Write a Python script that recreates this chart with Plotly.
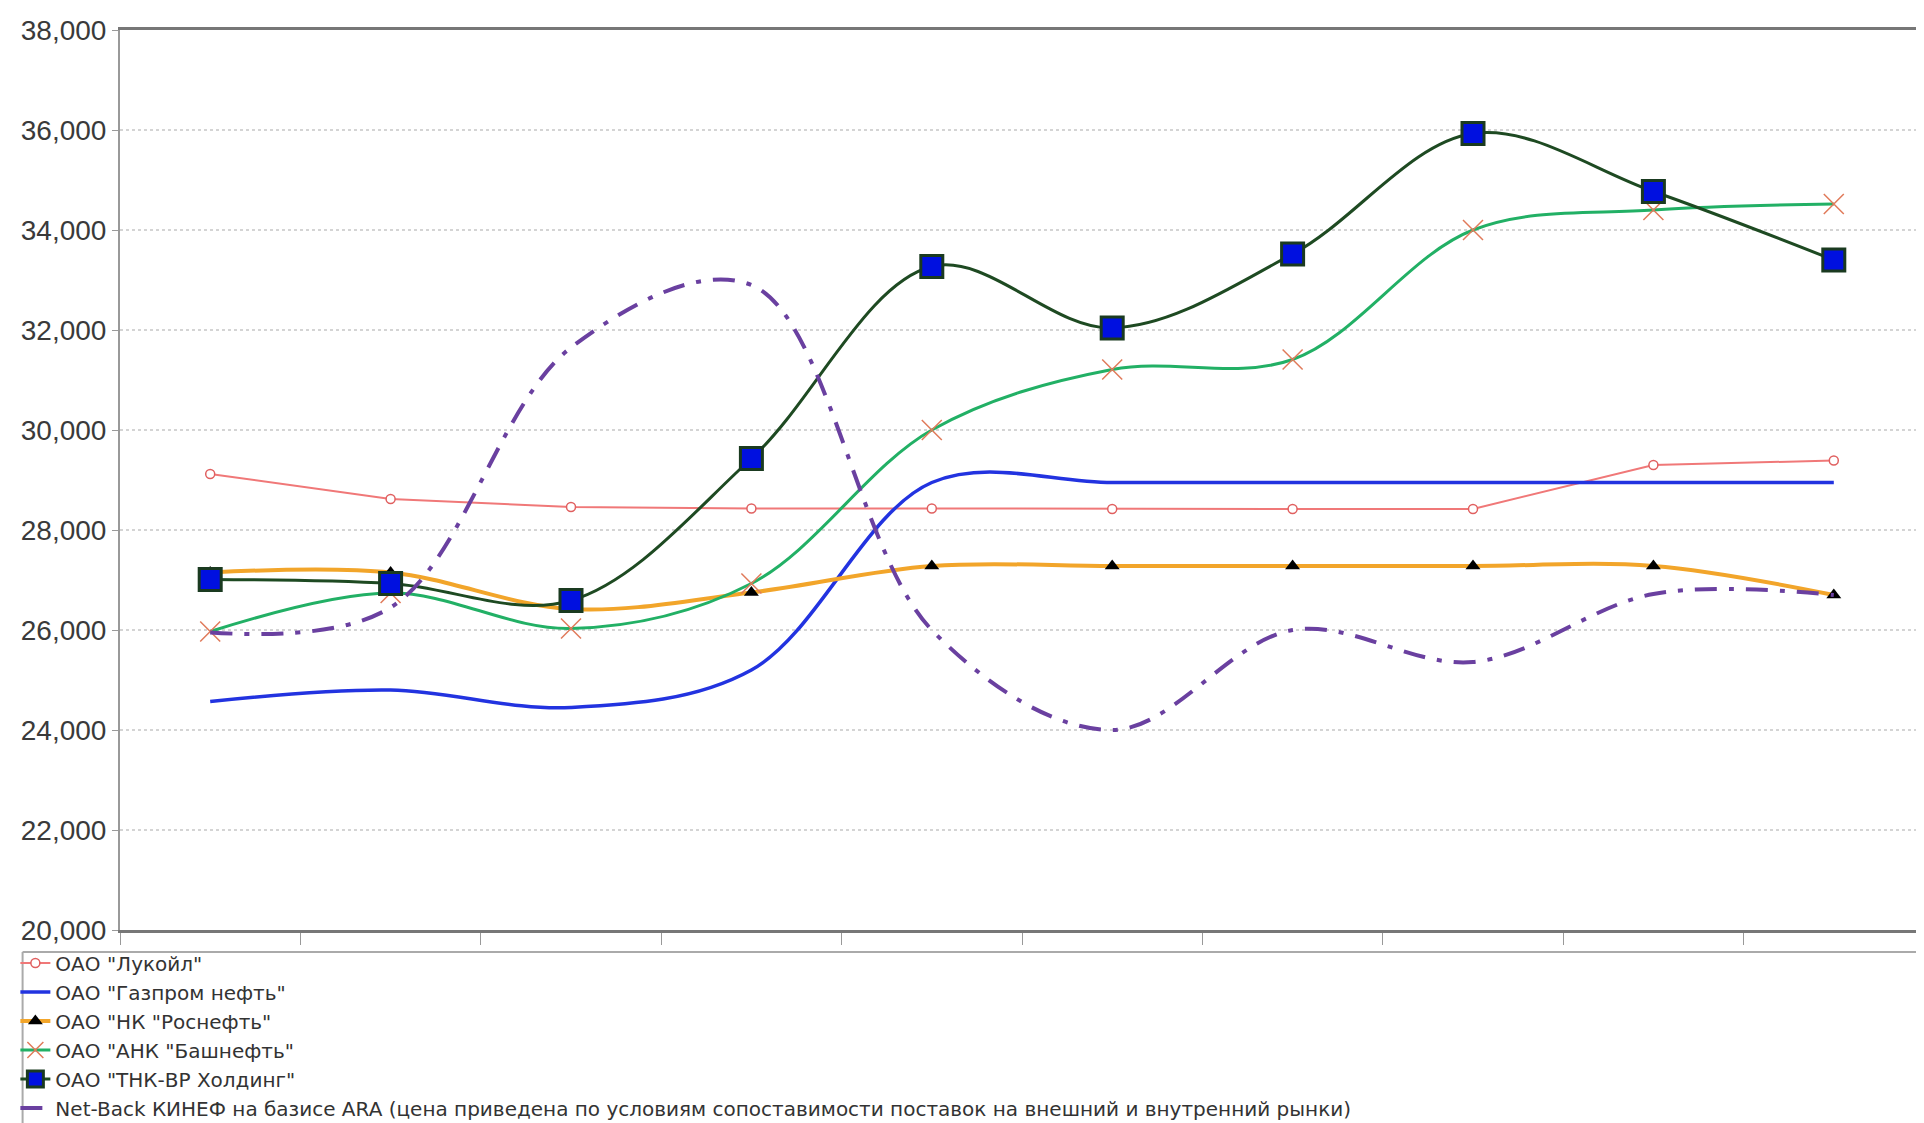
import plotly.graph_objects as go

categories = ["1", "2", "3", "4", "5", "6", "7", "8", "9", "10"]

lukoil = [29120, 28620, 28460, 28430, 28430, 28420, 28420, 28420, 29300, 29390]
gazprom = [24570, 24800, 24450, 25200, 28950, 28950, 28950, 28950, 28950, 28950]
rosneft = [27150, 27150, 26420, 26750, 27280, 27280, 27280, 27280, 27280, 26700]
bashneft = [25970, 26740, 26030, 26930, 30000, 31210, 31410, 34000, 34400, 34520]
tnk = [27010, 26930, 26590, 29430, 33270, 32040, 33520, 35930, 34770, 33400]
netback = [25950, 26450, 31650, 32900, 26000, 24000, 26000, 25360, 26720, 26700]

names = [
    'ОАО "Лукойл"',
    'ОАО "Газпром нефть"',
    'ОАО "НК "Роснефть"',
    'ОАО "АНК "Башнефть"',
    'ОАО "ТНК-ВР Холдинг"',
    'Net-Back КИНЕФ на базисе ARA (цена приведена по условиям сопоставимости поставок на внешний и внутренний рынки)',
]

fig = go.Figure()

fig.add_trace(go.Scatter(
    x=categories, y=lukoil, name=names[0], mode="lines+markers",
    line=dict(color="#f07878", width=2, shape="linear"),
    marker=dict(symbol="circle", size=9, color="white", line=dict(color="#e06060", width=1.5)),
))
fig.add_trace(go.Scatter(
    x=categories, y=gazprom, name=names[1], mode="lines",
    line=dict(color="#2233e0", width=3.5, shape="spline", smoothing=1.0),
))
fig.add_trace(go.Scatter(
    x=categories, y=rosneft, name=names[2], mode="lines+markers",
    line=dict(color="#f2a52a", width=4, shape="spline", smoothing=1.0),
    marker=dict(symbol="triangle-up", size=13, color="black"),
))
fig.add_trace(go.Scatter(
    x=categories, y=bashneft, name=names[3], mode="lines+markers",
    line=dict(color="#22b065", width=3, shape="spline", smoothing=1.0),
    marker=dict(symbol="x-thin-open", size=20, color="#e07a5a", line=dict(color="#e07a5a", width=1.5)),
))
fig.add_trace(go.Scatter(
    x=categories, y=tnk, name=names[4], mode="lines+markers",
    line=dict(color="#1e4a22", width=3, shape="spline", smoothing=1.0),
    marker=dict(symbol="square", size=22, color="#0010e0", line=dict(color="#1a3a20", width=3)),
))
fig.add_trace(go.Scatter(
    x=categories, y=netback, name=names[5], mode="lines",
    line=dict(color="#6a40a0", width=4, shape="spline", smoothing=1.0, dash="22px,12px,5px,12px"),
))

fig.update_layout(
    width=1924, height=1123,
    margin=dict(l=112, r=8, t=22, b=201, autoexpand=False),
    paper_bgcolor="white", plot_bgcolor="white",
    showlegend=True,
    legend=dict(
        x=-0.058, y=-0.015, xanchor="left", yanchor="top",
        orientation="v", bgcolor="rgba(0,0,0,0)",
        font=dict(family="DejaVu Sans", size=20, color="#333"),
        itemwidth=30, tracegroupgap=0,
    ),
    font=dict(family="Liberation Sans", color="#444"),
    shapes=[
        dict(type="line", xref="paper", yref="paper", x0=-0.054, x1=1.01, y0=-0.0244, y1=-0.0244,
             line=dict(color="#aaa", width=2)),
        dict(type="line", xref="paper", yref="paper", x0=-0.054, x1=-0.054, y0=-0.0244, y1=-0.23,
             line=dict(color="#aaa", width=2)),
    ],
)

fig.update_xaxes(
    type="category", range=[-0.5, 9.5],
    showticklabels=False, tickson="boundaries", ticks="outside", ticklen=12,
    tickcolor="#999", showgrid=False,
    showline=True, linecolor="#777", linewidth=2.5, mirror=True, zeroline=False,
)
fig.update_yaxes(
    range=[20000, 38000], dtick=2000, tickformat=",d",
    tickfont=dict(family="Liberation Sans", size=28, color="#3a3a3a"),
    ticks="outside", ticklen=6, tickcolor="#999",
    showgrid=True, gridcolor="#d4d4d4", griddash="dot", gridwidth=1.5,
    showline=True, linecolor="#999", linewidth=2, mirror=True, zeroline=False,
)

fig.write_html("out.html")
